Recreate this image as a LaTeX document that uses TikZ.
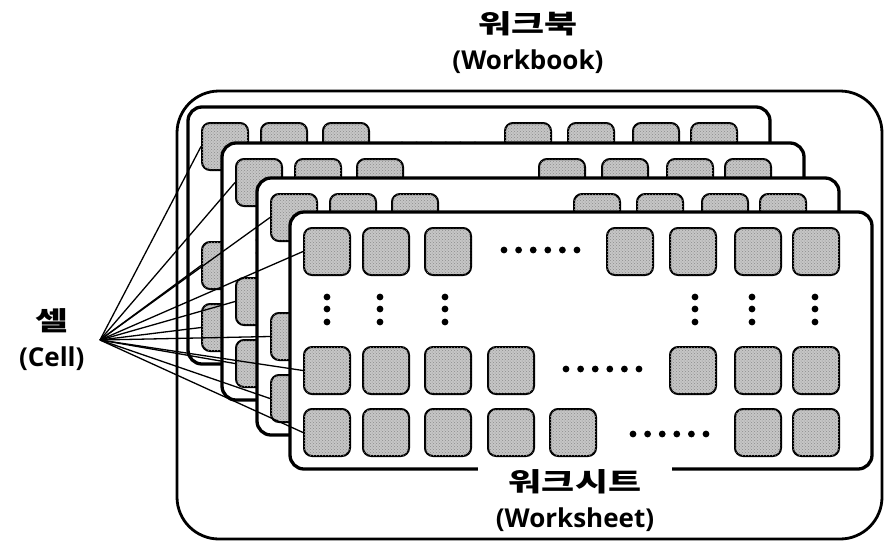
\documentclass[tikz,border=0pt]{standalone}
\usepackage{fontspec}
\setmainfont{Open Sans}
\newfontfamily\kr{Noto Sans CJK KR}[FakeStretch=1.38]
\usetikzlibrary{positioning, patterns}

\begin{document}
\begin{tikzpicture}[x=1pt, y=-1pt,
    book/.style={draw, line width=2.8pt, rounded corners=42pt},
    sheet/.style={draw, fill=white, line width=3.3pt, rounded corners=14pt},
    cell/.style={rectangle, draw, line width=2pt, rounded corners=8pt,
                 minimum width=46pt, minimum height=47pt, inner sep=0pt,
                 fill=gray!45, postaction={pattern=crosshatch dots, pattern color=black!45}},
    link/.style={line width=1.3pt},
    caption/.style={font=\fontsize{26}{36}\selectfont\bfseries, align=center},
]
\useasboundingbox (0,0) rectangle (885,547);

% Workbook frame
\draw[book] (177,91) rectangle (882,539);

% Worksheets, back to front
\foreach \n/\sx/\sy in {1/188/107, 2/222/143, 3/257/178, 4/290/212} {
  \begin{scope}[shift={(\sx,\sy)}]
    \draw[sheet] (0,0) rectangle (582,257);
    % first row
    \foreach \cx [count=\i] in {13,72,134,316,379,444,502}
      \node[cell, anchor=north west] (s\n-r1c\i) at (\cx,15) {};
    % third row
    \foreach \cx [count=\i] in {13,72,134,197,379,444,502}
      \node[cell, anchor=north west] (s\n-r3c\i) at (\cx,134) {};
    % fourth row
    \foreach \cx [count=\i] in {13,72,134,197,259,444,502}
      \node[cell, anchor=north west] (s\n-r4c\i) at (\cx,196) {};
    % row dots
    \foreach \k in {0,...,5} {
      \fill (214+14.6*\k,38) circle[radius=3.4pt];
      \fill (276+14.6*\k,157) circle[radius=3.4pt];
      \fill (343+14.6*\k,222) circle[radius=3.4pt];
    }
    % column dots
    \foreach \dx in {37,90,155,405,462,525}
      \foreach \dy in {85,97,110}
        \fill (\dx,\dy) circle[radius=3.4pt];
  \end{scope}
}

% Labels
\node[caption] (book) at (528,43) {{\kr 워크북}\\(Workbook)};
\node[caption, fill=white, minimum width=194pt, minimum height=70pt, inner sep=0pt]
  (ws) at (575,501) {{\kr 워크시트}\\(Worksheet)};
\coordinate (apex) at (100,340);
\node[caption, left=12pt of apex] (cell) {{\kr 셀}\\(Cell)};

% Cell pointers
\foreach \n in {1,...,4}
  \foreach \row in {1,3,4}
    \draw[link] (apex) -- (s\n-r\row c1.west);

\end{tikzpicture}
\end{document}
